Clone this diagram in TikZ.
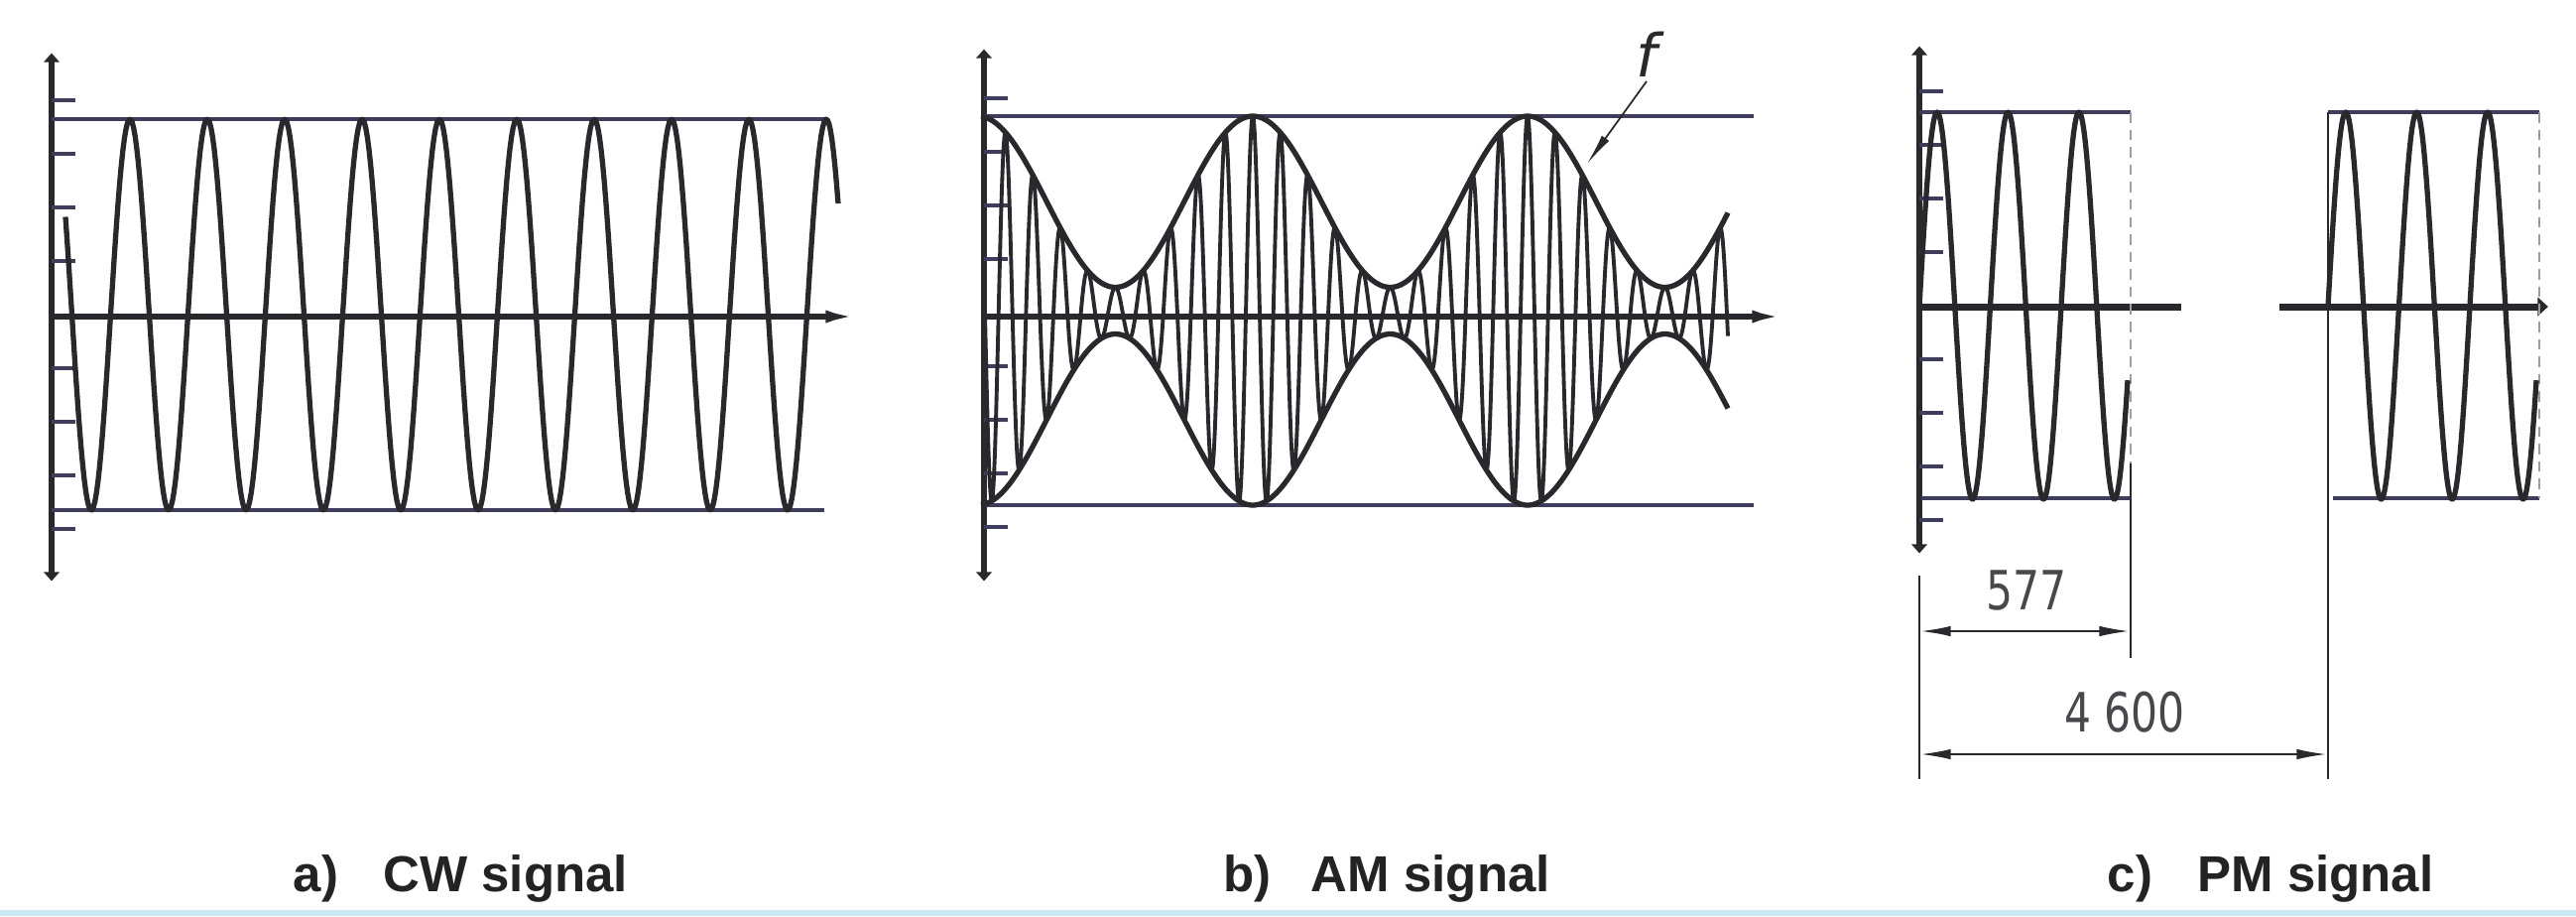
\documentclass[tikz,border=0pt]{standalone}
\usepackage{fontspec}
\setmainfont{Liberation Sans}
\newfontfamily\dimfont{DejaVu Sans}
\usepackage{graphicx}
\usetikzlibrary{arrows.meta,positioning,calc}

\definecolor{ink}{RGB}{40,40,45}
\definecolor{slate}{RGB}{62,62,92}
\definecolor{capink}{RGB}{35,35,35}
\definecolor{scanline}{RGB}{200,234,240}

\tikzset{
  axis/.style={line width=1.7pt, draw=ink},
  yarrows/.style={arrows={Latex[length=9pt,width=3pt]-Latex[length=9pt,width=3pt]}},
  xarrow/.style={arrows={-Latex[length=11pt,width=3.5pt]}},
  refline/.style={line width=1pt, draw=slate},
  tickmark/.style={line width=0.9pt, draw=slate},
  wave/.style={line width=1.5pt, draw=ink, line join=round},
  carrier/.style={line width=1.1pt, draw=ink, line join=round},
  faint/.style={line width=0.6pt, draw=ink!45, densely dashed},
  extline/.style={line width=0.8pt, draw=ink},
  dimline/.style={line width=0.8pt, draw=ink, arrows={Latex[length=9pt,width=3pt]-Latex[length=9pt,width=3pt]}},
  dimtext/.style={font=\dimfont\fontsize{15.5}{17}\selectfont, text=ink!85, inner sep=0pt},
  caption/.style={font=\bfseries\fontsize{14.5}{17}\selectfont, text=capink, inner sep=0pt}
}

\begin{document}
\begin{tikzpicture}[x=0.01cm, y=-0.01cm]
  \useasboundingbox (0,0) rectangle (2597,923);

  % a) CW signal
  \coordinate (aT) at (52,31);
  \coordinate (aB) at (52,608);
  \coordinate (aO) at (52,319);
  \coordinate (aE) at (871,319);
  \draw[axis, yarrows] (aT) -- (aB);
  \draw[axis, xarrow] (aO) -- (aE);
  \foreach \k in {-4,-3,-2,-1,1,2,3,4}
    \draw[tickmark] (52,{317+54*\k}) -- ++(24,0);
  \draw[refline] (52,120) -- (831,120);
  \draw[refline] (52,514) -- (831,514);
  \draw[wave] plot[domain=66:845, samples=500] (\x, {317-197*cos((\x-131)/78*360)});

  % b) AM signal
  \coordinate (bT) at (992,27);
  \coordinate (bB) at (992,608);
  \coordinate (bO) at (992,319);
  \coordinate (bE) at (1805,319);
  \draw[axis, yarrows] (bT) -- (bB);
  \foreach \k in {-4,-3,-2,-1,1,2,3,4}
    \draw[tickmark] (992,{315+54*\k}) -- ++(24,0);
  \draw[refline] (992,117) -- (1768,117);
  \draw[refline] (992,509) -- (1768,509);
  \draw[carrier] plot[domain=992:1742, samples=1400]
    (\x, {313-196*(0.56+0.44*cos((\x-986)/277*360))*cos((\x-986)/27.7*360)});
  \draw[wave] plot[domain=989:1742, samples=300] (\x, {313-196*(0.56+0.44*cos((\x-986)/277*360))});
  \draw[wave] plot[domain=989:1742, samples=300] (\x, {313+196*(0.56+0.44*cos((\x-986)/277*360))});
  \draw[axis, xarrow] (bO) -- (bE);
  \node[font=\dimfont\itshape\fontsize{17}{19}\selectfont, text=ink, inner sep=1pt] (keyf) at (1660,55) {f};
  \coordinate (fTip) at (1600,165);
  \draw[line width=0.5pt, draw=ink, arrows={-Latex[length=9pt,width=2.6pt]}] (keyf.south) -- (fTip);

  % c) PM signal
  \coordinate (cT) at (1935,24);
  \coordinate (cB) at (1935,580);
  \coordinate (cX) at (1935,785);
  \draw[axis, yarrows] (cT) -- (cB);
  \draw[extline] (cB) -- (cX);
  \foreach \k in {-4,-3,-2,-1,1,2,3,4}
    \draw[tickmark] (1935,{308+54*\k}) -- ++(24,0);
  \draw[axis, line width=2pt] (1935,309) -- (2199,309);
  \draw[axis, line width=2pt, xarrow] (2298,309) -- (2597,309);
  % first burst
  \draw[refline] (1935,113) -- (2148,113);
  \draw[refline] (1937,502) -- (2148,502);
  \draw[faint] (2148,113) -- (2148,467);
  \coordinate (e1) at (2148,663);
  \draw[extline] (2148,467) -- (e1);
  \draw[wave] plot[domain=1935:2145, samples=300] (\x, {308-195*sin((\x-1935)/71.5*360)});
  % second burst
  \coordinate (e2T) at (2347,113);
  \coordinate (e2) at (2347,785);
  \draw[refline] (e2T) -- (2560,113);
  \draw[refline] (2352,502) -- (2560,502);
  \draw[faint] (2560,113) -- (2560,502);
  \draw[extline] (e2T) -- (e2);
  \draw[wave] plot[domain=2347:2557, samples=300] (\x, {308-195*sin((\x-2347)/71.5*360)});
  % dimensions
  \coordinate (d1L) at (1935,636);
  \coordinate (d1R) at (2148,636);
  \coordinate (d2L) at (1935,760);
  \coordinate (d2R) at (2347,760);
  \draw[dimline] (d1L) -- (d1R);
  \draw[dimline] (d2L) -- (d2R);
  \node[dimtext] (n577) at (2043,595) {\scalebox{0.78}[1]{577}};
  \node[dimtext] (n4600) at (2142,718) {\scalebox{0.78}[1]{4 600}};

  % captions
  \node[caption, anchor=base west] (capAl) at (295,898) {a)};
  \node[caption, base right=12.5pt of capAl] (capA) {CW signal};
  \node[caption, anchor=base west] (capBl) at (1233,898) {b)};
  \node[caption, base right=11pt of capBl] (capB) {AM signal};
  \node[caption, anchor=base west] (capCl) at (2124,898) {c)};
  \node[caption, base right=12.5pt of capCl] (capC) {PM signal};

  \fill[scanline] (0,917) rectangle (2597,923);
\end{tikzpicture}
\end{document}
